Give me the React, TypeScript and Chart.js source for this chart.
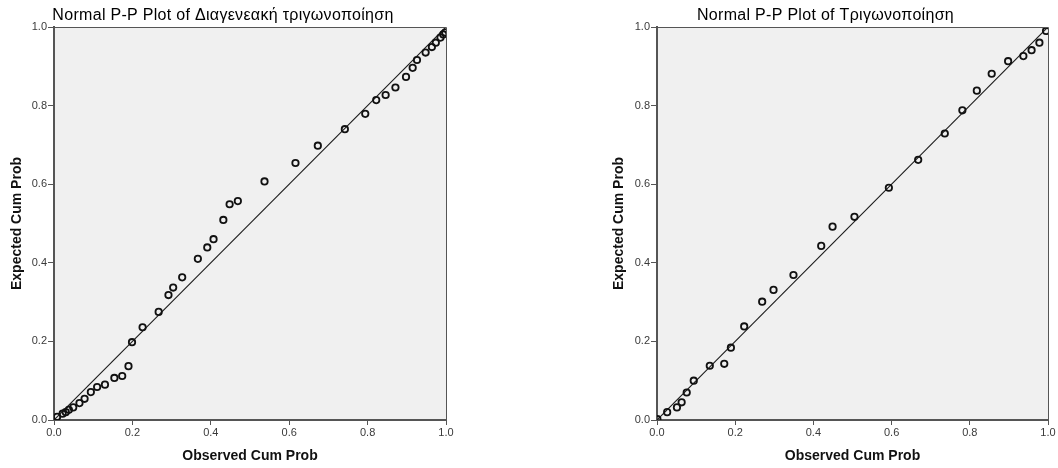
import React, { useEffect, useRef } from "react";
import { Chart, registerables } from "chart.js";

Chart.register(...registerables);

const FONT = "'Liberation Sans', Arial, sans-serif";

const tickValues = [0, 0.2, 0.4, 0.6, 0.8, 1.0];
const titleLeft = "Normal P-P Plot of Διαγενεακή τριγωνοποίηση";
const titleRight = "Normal P-P Plot of Τριγωνοποίηση";
const xAxisTitle = "Observed Cum Prob";
const yAxisTitle = "Expected Cum Prob";
const refLineX = [0, 1];
const refLineY = [0, 1];

const leftObserved = [
  0.008, 0.022, 0.03, 0.038, 0.049, 0.065, 0.078, 0.094, 0.11, 0.13, 0.154, 0.174, 0.19, 0.199,
  0.226, 0.267, 0.292, 0.304, 0.327, 0.367, 0.391, 0.407, 0.432, 0.448, 0.469, 0.537, 0.616,
  0.673, 0.742, 0.794, 0.822, 0.846, 0.871, 0.898, 0.915, 0.926, 0.948, 0.964, 0.974, 0.986,
  0.993, 0.998,
];
const leftExpected = [
  0.008, 0.016, 0.02, 0.026, 0.032, 0.043, 0.054, 0.071, 0.084, 0.09, 0.107, 0.112, 0.137, 0.198,
  0.236, 0.275, 0.318, 0.337, 0.363, 0.41, 0.439, 0.46, 0.509, 0.549, 0.557, 0.607, 0.654,
  0.698, 0.74, 0.779, 0.814, 0.827, 0.846, 0.873, 0.896, 0.916, 0.935, 0.949, 0.96, 0.973,
  0.981, 0.986,
];

const rightObserved = [
  0.001, 0.026, 0.051, 0.063, 0.076, 0.094, 0.135, 0.172, 0.189, 0.223, 0.269, 0.298, 0.349,
  0.42, 0.449, 0.505, 0.593, 0.668, 0.736, 0.781, 0.818, 0.856, 0.898, 0.937, 0.958, 0.978,
  0.995,
];
const rightExpected = [
  0.002, 0.02, 0.032, 0.045, 0.07, 0.1, 0.138, 0.143, 0.184, 0.238, 0.301, 0.331, 0.369, 0.443,
  0.492, 0.517, 0.591, 0.662, 0.729, 0.788, 0.838, 0.881, 0.913, 0.926, 0.941, 0.96, 0.99,
];

type PanelProps = {
  title: string;
  observed: number[];
  expected: number[];
  left: number;
  padLeft: number;
  padRight: number;
  yTitlePad: number;
};

function Panel({ title, observed, expected, left, padLeft, padRight, yTitlePad }: PanelProps) {
  const ref = useRef<HTMLCanvasElement | null>(null);
  useEffect(() => {
    if (!ref.current) return;
    const panelPlugin = {
      id: "panelDeco",
      beforeDraw(chart: any) {
        const { ctx, chartArea: a } = chart;
        ctx.save();
        ctx.fillStyle = "#f0f0f0";
        ctx.fillRect(a.left, a.top, a.right - a.left, a.bottom - a.top);
        ctx.restore();
      },
      afterDraw(chart: any) {
        const { ctx, chartArea: a } = chart;
        ctx.save();
        ctx.strokeStyle = "#555";
        ctx.lineWidth = 1;
        ctx.beginPath();
        ctx.moveTo(a.left, a.top + 0.5);
        ctx.lineTo(a.right + 0.5, a.top + 0.5);
        ctx.lineTo(a.right + 0.5, a.bottom);
        ctx.stroke();
        ctx.fillStyle = "#000";
        ctx.font = `16px ${FONT}`;
        (ctx as any).letterSpacing = "0.3px";
        ctx.textAlign = "center";
        ctx.textBaseline = "middle";
        ctx.fillText(title, (a.left + a.right) / 2 - 27, 15.5);
        ctx.restore();
      },
    };
    const chart = new Chart(ref.current, {
      type: "scatter",
      data: {
        datasets: [
          {
            data: observed.map((x, i) => ({ x, y: expected[i] })),
            pointStyle: "circle",
            pointRadius: 3.2,
            pointBorderWidth: 1.8,
            pointBackgroundColor: "rgba(0,0,0,0)",
            pointBorderColor: "#111",
            showLine: false,
          } as any,
          {
            data: refLineX.map((x, i) => ({ x, y: refLineY[i] })),
            showLine: true,
            pointRadius: 0,
            borderColor: "#1a1a1a",
            borderWidth: 1.1,
          } as any,
        ],
      },
      options: {
        responsive: false,
        animation: false,
        devicePixelRatio: 1,
        layout: { padding: { left: padLeft, right: padRight, top: 27, bottom: 0 } },
        plugins: { legend: { display: false }, tooltip: { enabled: false }, title: { display: false } },
        scales: {
          x: {
            type: "linear",
            min: 0,
            max: 1,
            position: "bottom",
            afterBuildTicks: (s: any) => {
              s.ticks = tickValues.map((v) => ({ value: v }));
            },
            afterFit: (s: any) => {
              s.height = 48;
            },
            ticks: {
              callback: (v: any) => Number(v).toFixed(1),
              font: { size: 11, family: FONT },
              color: "#3a3a3a",
              padding: 1,
              maxRotation: 0,
              autoSkip: false,
            },
            grid: { drawOnChartArea: false, drawTicks: true, tickLength: 5, color: "#555" },
            border: { display: true, color: "#555", width: 2 },
            title: {
              display: true,
              text: xAxisTitle,
              font: { size: 14, weight: "bold", family: FONT },
              color: "#111",
              padding: { top: 0, bottom: 3 },
            },
          } as any,
          y: {
            type: "linear",
            min: 0,
            max: 1,
            position: "left",
            afterBuildTicks: (s: any) => {
              s.ticks = tickValues.map((v) => ({ value: v }));
            },
            afterFit: (s: any) => {
              s.width = 54;
            },
            ticks: {
              callback: (v: any) => Number(v).toFixed(1),
              font: { size: 11, family: FONT },
              color: "#3a3a3a",
              padding: 1,
              autoSkip: false,
            },
            grid: { drawOnChartArea: false, drawTicks: true, tickLength: 6, color: "#555" },
            border: { display: true, color: "#555", width: 2 },
            title: {
              display: true,
              text: yAxisTitle,
              font: { size: 14, weight: "bold", family: FONT },
              color: "#111",
              padding: { top: yTitlePad, bottom: 0 },
            },
          } as any,
        },
      },
      plugins: [panelPlugin],
    });
    return () => chart.destroy();
  }, []);
  return (
    <canvas
      ref={ref}
      width={529}
      height={468}
      style={{ position: "absolute", left, top: 0, width: 529, height: 468 }}
    />
  );
}

export default function App() {
  return (
    <div style={{ position: "fixed", left: 0, top: 0, width: 1058, height: 468, background: "#fff" }}>
      <Panel
        title={titleLeft}
        observed={leftObserved}
        expected={leftExpected}
        left={0}
        padLeft={0}
        padRight={83}
        yTitlePad={9}
      />
      <Panel
        title={titleRight}
        observed={rightObserved}
        expected={rightExpected}
        left={529}
        padLeft={74}
        padRight={10}
        yTitlePad={8}
      />
    </div>
  );
}
